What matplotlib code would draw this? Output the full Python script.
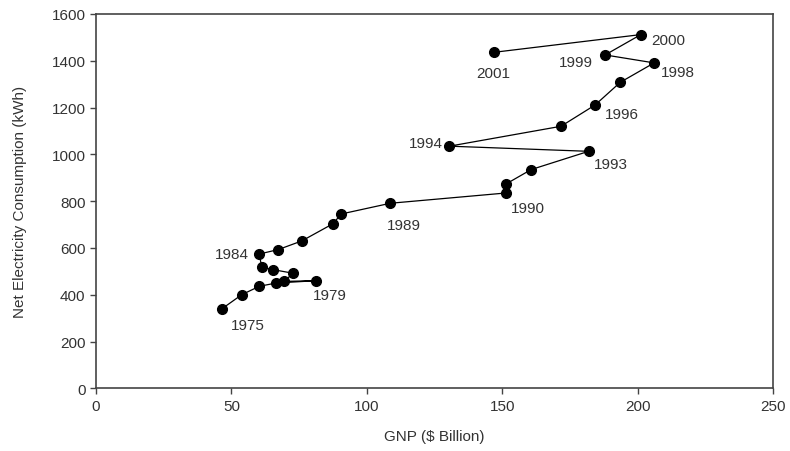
"""GNP vs net electricity consumption, 1975-2001 (connected scatter)."""

import matplotlib

matplotlib.use("Agg")  # headless
import matplotlib.pyplot as plt  # noqa: E402

plt.rcParams["font.family"] = ["Liberation Sans", "DejaVu Sans"]

YEARS = list(range(1975, 2002))
GNP = [46.4, 53.8, 60.3, 66.5, 81.3, 69.6, 72.7, 65.5, 61.2, 60.3,
       67.3, 76.0, 87.6, 90.5, 108.7, 151.5, 151.5, 160.7, 181.9, 130.5,
       171.7, 184.3, 193.6, 206.1, 188.0, 201.2, 146.8]
ELEC = [339, 400, 436, 450, 460, 457, 492, 507, 517, 574,
        593, 630, 704, 745, 791, 835, 874, 935, 1013, 1035,
        1120, 1211, 1308, 1391, 1425, 1512, 1436]

LABELED = [1975, 1979, 1984, 1989, 1990, 1993, 1994, 1996, 1998, 1999,
           2000, 2001]
# смещения подписей в пикселях (dx, dy) от точки
LABEL_OFFSET = {
    1975: (26, -16), 1979: (14, -14), 1984: (-27, 0), 1989: (14, -22),
    1990: (22, -15), 1993: (22, -13), 1994: (-24, 3), 1996: (27, -9),
    1998: (24, -9), 1999: (-29, -7), 2000: (27, -5), 2001: (0, -21),
}

TXT = "#333333"

fig = plt.figure(figsize=(7.9, 4.52), dpi=100)
ax = fig.add_axes([96 / 790, 1 - 389.3 / 452, (773 - 96) / 790, (389.3 - 15) / 452])

ax.plot(GNP, ELEC, color="black", linewidth=0.9, marker="o", markersize=7,
        zorder=3)
for yr, x, y in zip(YEARS, GNP, ELEC):
    if yr in LABELED:
        ax.annotate(str(yr), (x, y), xytext=LABEL_OFFSET[yr],
                    textcoords="offset pixels", ha="center", va="center",
                    fontsize=11, color=TXT)

ax.set_xlim(0, 250)
ax.set_ylim(0, 1600)
ax.set_xticks(range(0, 251, 50))
ax.set_yticks(range(0, 1601, 200))
ax.tick_params(direction="out", length=4, width=1, colors="#444444",
               labelcolor=TXT, labelsize=11)
for s in ax.spines.values():
    s.set_color("#444444")
    s.set_linewidth(1.2)

ax.set_xlabel("GNP ($ Billion)", fontsize=11, color=TXT, labelpad=12)
ax.set_ylabel("Net Electricity Consumption (kWh)", fontsize=11, color=TXT,
              labelpad=18)

fig.savefig("out.png", dpi=100)
plt.close(fig)
